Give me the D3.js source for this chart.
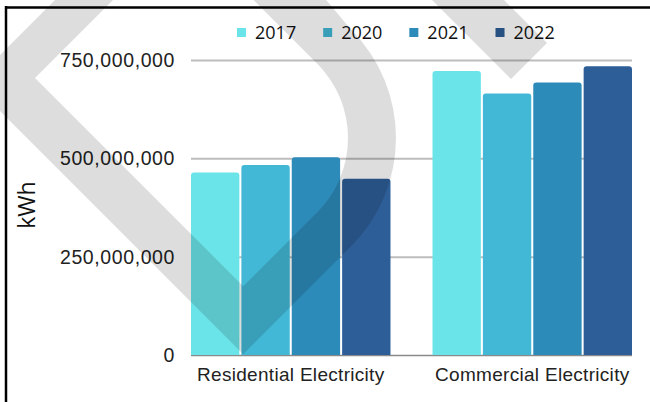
<!DOCTYPE html>
<html>
<head>
<meta charset="utf-8">
<script src="https://cdn.jsdelivr.net/npm/d3@7"></script>
<style>
  html, body { margin: 0; padding: 0; background: #ffffff; }
  svg { display: block; font-family: "Open Sans", "Noto Sans", sans-serif; }
</style>
</head>
<body>
<svg id="chart" width="650" height="402"></svg>
<script>
// Electricity consumption (kWh) by sector and year
const categories = ["Residential Electricity", "Commercial Electricity"];
const years = ["2017", "2020", "2021", "2022"];
const residential = [464e6, 483e6, 503e6, 448e6];
const commercial = [722e6, 665e6, 693e6, 734e6];
const tickValues = [0, 250e6, 500e6, 750e6];
const yearColors = ["#6ae4e8", "#42b8d6", "#2d8bba", "#2e5e98"];
const axisTitle = "kWh";

const series = { "Residential Electricity": residential, "Commercial Electricity": commercial };
const rows = categories.flatMap(cat =>
  years.map((yr, i) => ({ cat, yr, value: series[cat][i] }))
);

const svg = d3.select("#chart");
const plot = { left: 191, right: 632, top: 60, bottom: 355 };

const x0 = d3.scaleBand().domain(categories)
  .range([plot.left, plot.right]).paddingInner(0.174).paddingOuter(0);
const x1 = d3.scaleBand().domain(years)
  .range([0, x0.bandwidth()]).paddingInner(0.04);
const y = d3.scaleLinear().domain([0, 750e6]).range([plot.bottom, plot.top]);
const color = d3.scaleOrdinal().domain(years).range(yearColors);

// Horizontal gridlines and value labels
const yAxis = d3.axisLeft(y).tickValues(tickValues).tickFormat(d3.format(","))
  .tickSize(-(plot.right - plot.left)).tickPadding(16);
const gy = svg.append("g").attr("transform", `translate(${plot.left},0)`).call(yAxis);
gy.select(".domain").remove();
gy.selectAll(".tick line")
  .attr("stroke", d => d === 0 ? "#8a8a8a" : "#bdbdbd")
  .attr("stroke-width", d => d === 0 ? 1.5 : 2);
gy.selectAll(".tick text")
  .attr("fill", "#222").style("font-size", "19.5px")
  .style("letter-spacing", "0.6px")
  .attr("dy", "0.34em");

// Bars with slightly rounded tops
const r = 3;
function barPath(d) {
  const bx = x0(d.cat) + x1(d.yr), bw = x1.bandwidth();
  const top = y(d.value), base = y(0);
  return `M${bx},${base}V${top + r}Q${bx},${top} ${bx + r},${top}` +
    `H${bx + bw - r}Q${bx + bw},${top} ${bx + bw},${top + r}V${base}Z`;
}
svg.append("g").selectAll("path").data(rows).join("path")
  .attr("d", barPath)
  .attr("fill", d => color(d.yr));

// Category labels
const xAxis = d3.axisBottom(x0).tickSize(0).tickPadding(0);
const gx = svg.append("g").attr("transform", `translate(0,${plot.bottom})`).call(xAxis);
gx.select(".domain").remove();
gx.selectAll(".tick text")
  .attr("fill", "#222").style("font-size", "19px")
  .style("letter-spacing", "0.3px")
  .attr("y", 26).attr("dy", 0);

// Axis title
svg.append("text")
  .attr("transform", "translate(35,205) rotate(-90)")
  .attr("text-anchor", "middle")
  .attr("fill", "#111").style("font-size", "23px")
  .text(axisTitle);

// Legend
const legend = svg.append("g").attr("transform", "translate(237,0)");
let lx = 0;
years.forEach(yr => {
  const item = legend.append("g").attr("transform", `translate(${lx},0)`);
  item.append("rect").attr("x", 0).attr("y", 28).attr("width", 9).attr("height", 9)
    .attr("fill", color(yr));
  const t = item.append("text").attr("x", 18).attr("y", 39)
    .attr("fill", "#111").style("font-size", "18px").text(yr);
  lx += 18 + t.node().getComputedTextLength() + 27;
});

// Frame lines along the top and left edges
svg.append("line").attr("x1", 5).attr("x2", 650).attr("y1", 7.5).attr("y2", 7.5)
  .attr("stroke", "#000").attr("stroke-width", 2.5);
svg.append("line").attr("x1", 6).attr("x2", 6).attr("y1", 6).attr("y2", 402)
  .attr("stroke", "#000").attr("stroke-width", 2.5);

// Translucent decorative emblem laid over the chart
const cx = 243, cy = 138, rOut = 153, rIn = 105, s2 = Math.SQRT2, h = Math.SQRT1_2;
const lowOut = cx + cy + rOut * s2, upOut = cy - cx - rOut * s2;
const lowIn = cx + cy + rIn * s2, upIn = cy - cx - rIn * s2;
const chevOutUp = 55, chevOutLow = 111, chevInUp = 113, chevInLow = 43;
const p = d3.path();
p.moveTo(chevOutUp + 20, -20);
p.lineTo((chevOutUp - chevOutLow) / 2, (chevOutUp + chevOutLow) / 2);
p.lineTo((lowOut - chevOutLow) / 2, (lowOut + chevOutLow) / 2);
p.lineTo(cx + rOut * h, cy + rOut * h);
p.arc(cx, cy, rOut, Math.PI / 4, -Math.PI / 4, true);
p.lineTo(-20 - upOut + 8, -20);
p.lineTo(-20 - upIn, -20);
p.lineTo(cx + rIn * h, cy - rIn * h);
p.arc(cx, cy, rIn, -Math.PI / 4, Math.PI / 4, false);
p.lineTo((lowIn - chevInLow) / 2, (lowIn + chevInLow) / 2);
p.lineTo((chevInUp - chevInLow) / 2, (chevInUp + chevInLow) / 2);
p.lineTo(chevInUp + 20, -20);
p.closePath();
// small angled strip near the top right
p.moveTo(412, -20);
p.lineTo(511, 79);
p.lineTo(547, 43);
p.lineTo(484, -20);
p.closePath();
svg.append("path").attr("d", p.toString())
  .attr("fill", "#000").attr("fill-opacity", 0.135);
</script>
</body>
</html>
